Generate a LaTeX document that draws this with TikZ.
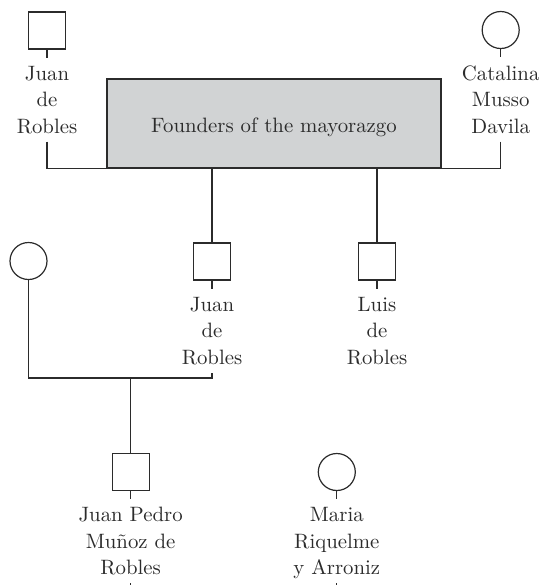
\documentclass[tikz,border=0pt]{standalone}
\usetikzlibrary{positioning}
\definecolor{ink}{HTML}{2B2B2B}
\definecolor{boxgray}{HTML}{D1D3D4}
\begin{document}
\begin{tikzpicture}[x=0.5pt,y=-0.5pt,
  every node/.style={font=\fontsize{10.4}{13.25}\selectfont, text=ink},
  male/.style={draw=ink, line width=0.6pt, minimum size=18.5pt, inner sep=0pt, rectangle},
  female/.style={draw=ink, line width=0.6pt, minimum size=18.5pt, inner sep=0pt, circle},
  pname/.style={align=center, inner xsep=0pt, inner ysep=4pt, text depth=0pt, below=4pt of #1},
  link/.style={draw=ink, line width=0.6pt},
  founders/.style={draw=ink, line width=0.6pt, fill=boxgray, minimum width=167pt, minimum height=44.5pt,
    text height=10.5pt, text depth=2pt, inner sep=0pt}]
\useasboundingbox (0,0) rectangle (539,585);

% generation 1
\node[male] (jr) at (47,30.5) {};
\node[pname=jr] (jrl) {Juan\\de\\Robles};
\node[female] (cm) at (500.7,30) {};
\node[pname=cm] (cml) {Catalina\\Musso\\Davila};
\node[founders] (box) at (274,123.5) {Founders of the mayorazgo};

% generation 2
\node[male] (jdr) at (212,261.5) {};
\node[pname=jdr] (jdrl) {Juan\\de\\Robles};
\node[male] (lr) at (377,261.5) {};
\node[pname=lr] (lrl) {Luis\\de\\Robles};
\node[female] (w2) at (28.5,261) {};

% generation 3
\node[male] (jp) at (130.6,472) {};
\node[pname=jp] (jpl) {Juan Pedro\\Muñoz de\\Robles};
\node[female] (mr) at (336.8,472) {};
\node[pname=mr] (mrl) {Maria\\Riquelme\\y Arroniz};

\coordinate (m2) at (130.6,378);
\coordinate (jpend) at (130.6,586);
\coordinate (mrend) at (336.8,586);

% connectors
\draw[link] (jr.south) -- (jrl.north);
\draw[link] (cm.south) -- (cml.north);
\draw[link] (jrl.south) |- (box.south west);
\draw[link] (cml.south) |- (box.south east);
\draw[link] (box.south -| jdr.north) -- (jdr.north);
\draw[link] (box.south -| lr.north) -- (lr.north);
\draw[link] (jdr.south) -- (jdrl.north);
\draw[link] (lr.south) -- (lrl.north);
\draw[link] (w2.south) |- (m2) -| (jdrl.south);
\draw[link] (m2) -- (jp.north);
\draw[link] (jp.south) -- (jpl.north);
\draw[link] (mr.south) -- (mrl.north);
\draw[link] (jpl.south) -- (jpend);
\draw[link] (mrl.south) -- (mrend);
\end{tikzpicture}
\end{document}
